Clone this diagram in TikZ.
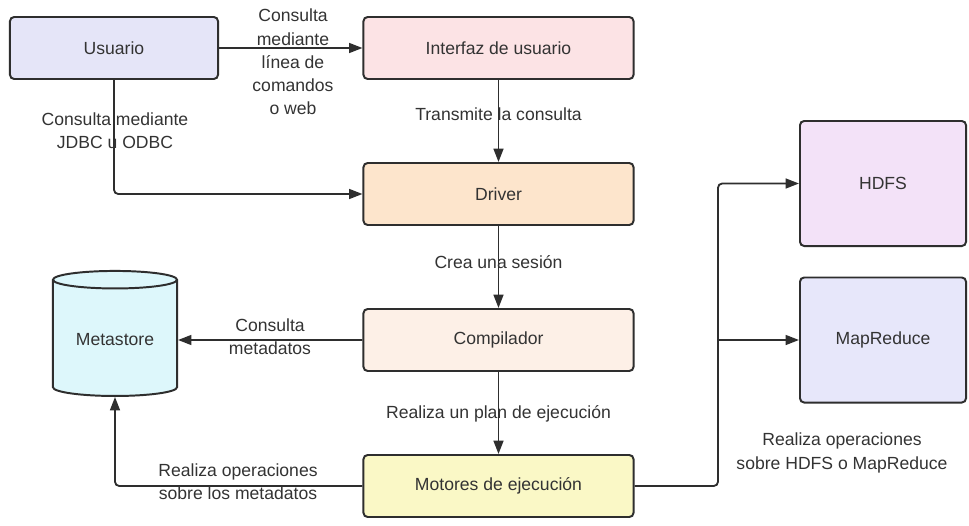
\documentclass[tikz,border=0pt]{standalone}
\usepackage{fontspec}
\setmainfont{Liberation Sans}
\usepackage{tikz}
\usetikzlibrary{arrows.meta, shapes.geometric}

\definecolor{edgegray}{HTML}{2E2E2E}
\definecolor{txtgray}{HTML}{333333}
\definecolor{usuariofill}{HTML}{E5E5F8}
\definecolor{interfazfill}{HTML}{FCE3E5}
\definecolor{driverfill}{HTML}{FDE5CC}
\definecolor{compfill}{HTML}{FDF0E7}
\definecolor{motorfill}{HTML}{FAF8C6}
\definecolor{metafill}{HTML}{DDF7FB}
\definecolor{hdfsfill}{HTML}{F3E2F8}
\definecolor{mapfill}{HTML}{E7E7FA}

\begin{document}
\begin{tikzpicture}[
    x=0.025cm, y=-0.025cm,
    stage/.style={draw=edgegray, rectangle, rounded corners=3pt, line width=1.4pt, minimum width=6.75cm, minimum height=1.55cm, font=\fontsize{12.5}{15}\selectfont, text=txtgray},
    store/.style={draw=edgegray, cylinder, shape border rotate=90, aspect=0.2, line width=1.4pt, minimum width=3.1cm, minimum height=3.125cm, font=\fontsize{12.5}{15}\selectfont, text=txtgray, fill=metafill},
    backend/.style={stage, minimum width=4.15cm, minimum height=3.125cm},
    flow/.style={-{Triangle[length=9.5pt, width=7pt]}, line width=1.3pt, draw=edgegray, rounded corners=3pt},
    note/.style={font=\fontsize{12.5}{16.5}\selectfont, text=txtgray, align=center},
]
  \useasboundingbox[fill=white] (0,0) rectangle (969,526);

  \node[stage, fill=usuariofill, minimum width=5.2cm] (usuario) at (114,48) {Usuario};
  \node[stage, fill=interfazfill] (interfaz) at (498.5,48) {Interfaz de usuario};
  \node[stage, fill=driverfill] (driver) at (498.5,194) {Driver};
  \node[stage, fill=compfill] (compilador) at (498.5,340) {Compilador};
  \node[stage, fill=motorfill] (motores) at (498.5,486) {Motores de ejecución};
  \node[store] (metastore) at (115,340) {Metastore};
  \node[backend, fill=hdfsfill] (hdfs) at (883,183.5) {HDFS};
  \node[backend, fill=mapfill] (mapreduce) at (883,340) {MapReduce};
  \coordinate (bus) at (718,340);

  \draw[flow] (usuario) -- (interfaz);
  \draw[flow] (usuario.south) |- (driver.west);
  \draw[flow] (interfaz) -- (driver);
  \draw[flow] (driver) -- (compilador);
  \draw[flow] (compilador) -- (motores);
  \draw[flow] (compilador.west) -- (metastore.east);
  \draw[flow] (motores.west) -| (metastore.south);
  \draw[flow] (motores.east) -| (bus) |- (hdfs.west);
  \draw[flow] (bus) -- (mapreduce.west);

  \node[note] (lblweb) at (293,62) {Consulta\\mediante\\línea de\\comandos\\o web};
  \node[note] (lbljdbc) at (115,131) {Consulta mediante\\JDBC u ODBC};
  \node[note] (lbltrans) at (498.5,114) {Transmite la consulta};
  \node[note] (lblsesion) at (498.5,262) {Crea una sesión};
  \node[note] (lblmeta) at (270,337) {Consulta\\metadatos};
  \node[note] (lblplan) at (498.5,414) {Realiza un plan de ejecución};
  \node[note] (lblops) at (238,482) {Realiza operaciones\\sobre los metadatos};
  \node[note] (lblhdfs) at (842,453) {Realiza operaciones\\sobre HDFS o MapReduce};
\end{tikzpicture}
\end{document}
